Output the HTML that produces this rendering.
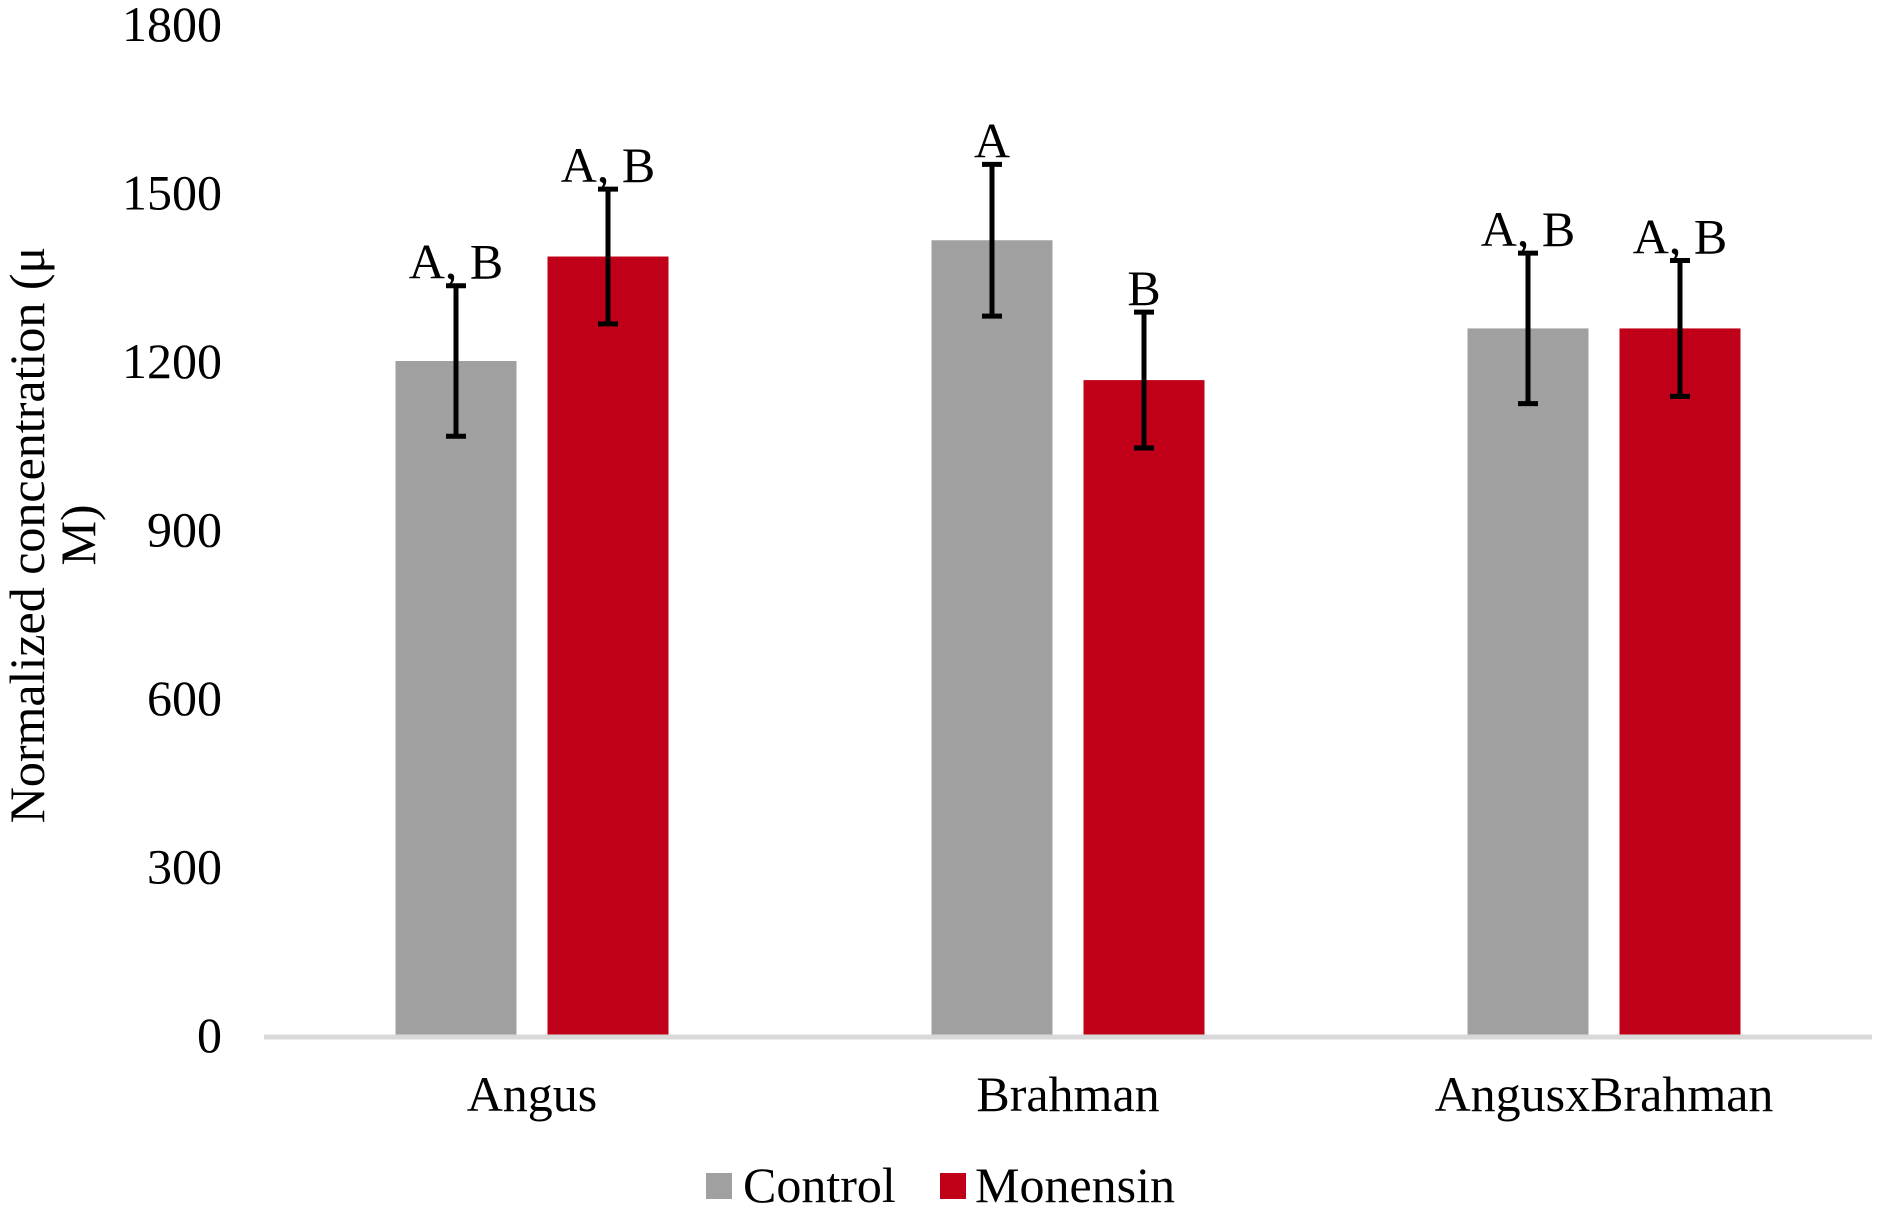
<!DOCTYPE html>
<html><head><meta charset="utf-8"><style>
html,body{margin:0;padding:0;background:#fff;}
svg{display:block;font-family:"Liberation Serif","Times New Roman",serif;}
</style></head><body>
<svg id="chart" width="1884" height="1212" viewBox="0 0 1884 1212" xmlns="http://www.w3.org/2000/svg">
<g id="yticks"></g>
<g id="bars"></g>
<line x1="264" y1="1037" x2="1872" y2="1037" stroke="#d9d9d9" stroke-width="5"/>
<g id="xlabels"></g>
<text transform="translate(0,535) rotate(-90)" font-size="50" text-anchor="middle"><tspan x="0" y="44">Normalized concentration (μ</tspan><tspan x="0" y="95">M)</tspan></text>
<g>
<rect x="706" y="1173" width="26" height="26" fill="#a0a0a0"/>
<text x="743" y="1202" font-size="50">Control</text>
<rect x="940" y="1173" width="26" height="26" fill="#c00018"/>
<text x="975" y="1202" font-size="50">Monensin</text>
</g>
</svg>
<script>
const categories = ["Angus", "Brahman", "AngusxBrahman"];
const controlValues = [1200, 1415, 1258];
const monensinValues = [1386, 1166, 1258];
const controlErrors = [134, 135, 134];
const monensinErrors = [120, 121, 121];
const controlLetters = ["A, B", "A", "A, B"];
const monensinLetters = ["A, B", "B", "A, B"];
const yTicks = [0, 300, 600, 900, 1200, 1500, 1800];

const NS = "http://www.w3.org/2000/svg";
const x0 = 264, x1 = 1872, y0 = 1035, yTop = 24, yMax = 1800;
const catW = (x1 - x0) / categories.length;
const barW = 121, gap = 31;
function yScale(v){ return y0 - (v / yMax) * (y0 - yTop); }
function catStart(i){ return x0 + i * catW; }
function mk(tag, attrs, parent){
  const el = document.createElementNS(NS, tag);
  for (const k in attrs) el.setAttribute(k, attrs[k]);
  parent.appendChild(el);
  return el;
}
const yt = document.getElementById("yticks");
yTicks.forEach(t => {
  const el = mk("text", {x: 222, y: yScale(t) + 17, "font-size": 50, "text-anchor": "end"}, yt);
  
  
  el.textContent = t;
});
const bars = document.getElementById("bars");
const series = [
  {vals: controlValues, errs: controlErrors, letters: controlLetters, color: "#a0a0a0", key: "control", off: 0},
  {vals: monensinValues, errs: monensinErrors, letters: monensinLetters, color: "#c00018", key: "monensin", off: 1}
];
categories.forEach((c, i) => {
  const left = catStart(i) + (catW - (2 * barW + gap)) / 2;
  series.forEach(s => {
    const bx = left + s.off * (barW + gap);
    const v = s.vals[i], e = s.errs[i];
    const r = mk("rect", {x: bx, y: yScale(v), width: barW, height: yScale(0) - yScale(v), fill: s.color}, bars);
    
    
    const cx = bx + barW / 2;
    const g = mk("g", {stroke: "#000", "stroke-width": 5}, bars);
    
    
    mk("line", {x1: cx, x2: cx, y1: yScale(v + e), y2: yScale(v - e)}, g);
    mk("line", {x1: cx - 10, x2: cx + 10, y1: yScale(v + e), y2: yScale(v + e)}, g);
    mk("line", {x1: cx - 10, x2: cx + 10, y1: yScale(v - e), y2: yScale(v - e)}, g);
    const t = mk("text", {x: cx, y: yScale(v + e) - 7, "font-size": 50, "text-anchor": "middle"}, bars);
    
    
    t.textContent = s.letters[i];
  });
});
const xl = document.getElementById("xlabels");
categories.forEach((c, i) => {
  const t = mk("text", {x: catStart(i) + catW / 2, y: 1111, "font-size": 50, "text-anchor": "middle"}, xl);
  
  
  t.textContent = c;
});
</script>
</body></html>
